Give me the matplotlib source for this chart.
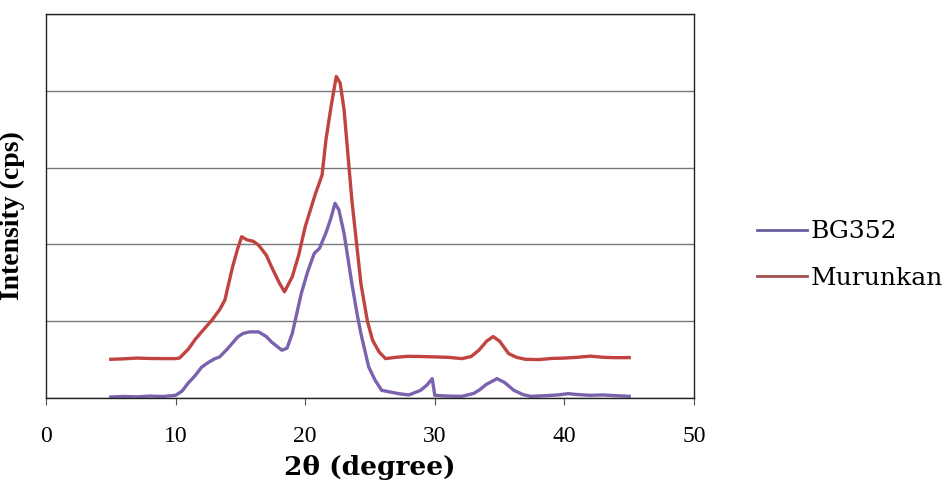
import matplotlib
matplotlib.use('Agg')
import matplotlib.pyplot as plt

# 2theta positions and intensities (arbitrary cps)
bg_x = [5, 6, 7, 8, 9, 10, 10.5, 11, 11.5, 12, 12.5, 13, 13.4, 14, 14.8, 15.2, 15.7, 16.4, 17, 17.4,
        18.2, 18.6, 19, 19.7, 20.2, 20.7, 21.1, 21.6, 22.0, 22.3, 22.6, 23.0, 23.6, 24.0, 24.3, 24.9,
        25.4, 25.9, 26.5, 27.2, 28, 28.9, 29.4, 29.8, 30.0, 30.5, 31, 32.1, 33, 33.4, 34, 34.8, 35.4,
        36.1, 36.8, 37.4, 38.5, 39.5, 40.3, 41, 42, 43, 44, 45]
bg_y = [13, 20, 15, 25, 20, 35, 90, 200, 290, 400, 460, 510, 535, 640, 796, 840, 861, 861, 800, 730,
        622, 650, 839, 1361, 1650, 1883, 1948, 2150, 2350, 2535, 2450, 2143, 1491, 1100, 839, 404,
        230, 100, 80, 57, 40, 100, 170, 252, 35, 30, 25, 22, 60, 100, 180, 252, 200,
        100, 45, 22, 30, 40, 57, 45, 35, 40, 30, 22]

mu_x = [5, 6, 7, 8, 9, 10, 10.3, 11, 11.5, 12, 12.8, 13.4, 13.8, 14.4, 14.8, 15.1, 15.5, 16, 16.4,
        17, 17.4, 18, 18.4, 19.0, 19.5, 20.0, 20.8, 21.3, 21.6, 22.0, 22.4, 22.7, 23.0, 23.6, 24.3,
        24.8, 25.2, 25.7, 26.2, 27, 27.9, 29, 30, 31, 32.1, 32.8, 33.4, 34.0, 34.5, 35.0, 35.7, 36.3,
        37.0, 38, 39, 40, 41, 42, 43, 44, 45]
mu_y = [504, 510, 520, 515, 513, 513, 520, 640, 760, 860, 1013, 1150, 1274, 1709, 1950, 2100, 2060,
        2040, 1991, 1860, 1709, 1500, 1383, 1578, 1862, 2230, 2665, 2900, 3360, 3800, 4187, 4100,
        3752, 2578, 1491, 1000, 752, 600, 513, 530, 543, 540, 535, 530, 513, 540, 622, 740, 800,
        740, 578, 530, 504, 500, 515, 520, 530, 545, 530, 525, 526]

names = ['BG352', 'Murunkan']
colors = ['#7b62ae', '#c0433f']

fig = plt.figure(figsize=(9.52, 4.88), dpi=100)
ax = fig.add_axes([0.0483, 0.1844, 0.6807, 0.7869])

ax.plot(bg_x, bg_y, color=colors[0], linewidth=2.4, label=names[0])
ax.plot(mu_x, mu_y, color=colors[1], linewidth=2.4, label=names[1])

ax.set_xlim(0, 50)
ax.set_ylim(0, 5000)
ax.set_xticks([0, 10, 20, 30, 40, 50])
ax.set_yticks([0, 1000, 2000, 3000, 4000, 5000])
ax.set_yticklabels([])
ax.tick_params(axis='y', length=0)
ax.tick_params(axis='x', direction='out', length=5, color='#555555', labelsize=17, pad=15)
for lab in ax.get_xticklabels():
    lab.set_family('Liberation Serif')
ax.grid(axis='y', color='#777777', linewidth=1.0)
ax.set_axisbelow(True)
for s in ax.spines.values():
    s.set_color('#222222')
    s.set_linewidth(1.0)

ax.set_xlabel('2θ (degree)', fontsize=19, fontweight='bold', family='DejaVu Serif', labelpad=6)
ax.set_ylabel('Intensity (cps)', fontsize=20, fontweight='bold', family='Liberation Serif')
ax.yaxis.set_label_coords(-0.032, 0.474)

leg = ax.legend(loc='center left', bbox_to_anchor=(1.097, 0.372), frameon=False, handlelength=2.0,
                handletextpad=0.15, labelspacing=0.95, borderaxespad=0, borderpad=0,
                prop={'family': 'DejaVu Serif', 'size': 18})
for h, c in zip(leg.get_lines(), ['#6a5e9e', '#a0504e']):
    h.set_linewidth(2.0)
    h.set_color(c)

plt.savefig('out.png', dpi=100)
plt.close()
